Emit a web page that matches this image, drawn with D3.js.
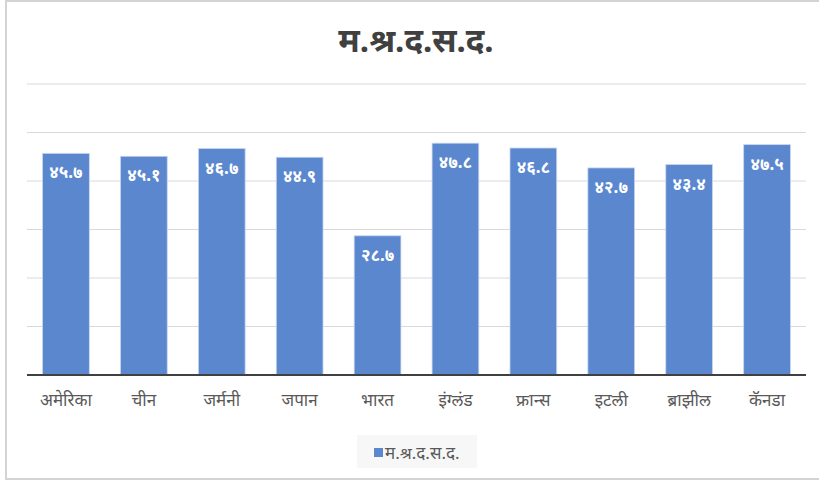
<!DOCTYPE html>
<html lang="mr">
<head>
    <meta charset="UTF-8">
    <title>म.श्र.द.स.द.</title>
    <script src="https://d3js.org/d3.v7.min.js"></script>
    <style>
        body { margin: 0; background: #fff; }
        text { font-family: "Noto Sans", "Noto Sans Devanagari", sans-serif; }
    </style>
</head>
<body>

<script>

    var countries = ['अमेरिका', 'चीन', 'जर्मनी', 'जपान', 'भारत', 'इंग्लंड', 'फ्रान्स', 'इटली', 'ब्राझील', 'कॅनडा'];
    var values = [45.7, 45.1, 46.7, 44.9, 28.7, 47.8, 46.8, 42.7, 43.4, 47.5];
    var valueLabels = ['४५.७', '४५.१', '४६.७', '४४.९', '२८.७', '४७.८', '४६.८', '४२.७', '४३.४', '४७.५'];
    var gridTicks = [10, 20, 30, 40, 50, 60];
    var seriesName = 'म.श्र.द.स.द.';

    var width = 819, height = 484;
    var barColor = '#5b87cf';

    var svg = d3.select('body')
        .append('svg')
        .attr('width', width)
        .attr('height', height);

    // chart frame
    svg.append('rect')
        .attr('x', 6).attr('y', 1)
        .attr('width', 830).attr('height', 478)
        .attr('fill', '#fff')
        .attr('stroke', '#d4d4d4')
        .attr('stroke-width', 2);

    var xScale = d3.scaleBand()
        .domain(countries)
        .range([27, 806])
        .paddingInner(0.4)
        .paddingOuter(0.2);

    var yScale = d3.scaleLinear()
        .domain([0, 60])
        .range([375, 84]);

    // gridlines
    svg.append('g')
        .selectAll('line')
        .data(gridTicks)
        .enter().append('line')
        .attr('x1', 27).attr('x2', 806)
        .attr('y1', function (d) { return yScale(d); })
        .attr('y2', function (d) { return yScale(d); })
        .attr('stroke', '#d9d9d9')
        .attr('stroke-width', 1);

    // bars
    svg.append('g')
        .selectAll('rect')
        .data(values)
        .enter().append('rect')
        .attr('x', function (d, i) { return xScale(countries[i]); })
        .attr('y', function (d) { return yScale(d); })
        .attr('width', xScale.bandwidth())
        .attr('height', function (d) { return yScale(0) - yScale(d); })
        .attr('fill', barColor)
        .attr('stroke', '#c9d6ef')
        .attr('stroke-width', 0.8);

    // value labels
    svg.append('g')
        .selectAll('text')
        .data(values)
        .enter().append('text')
        .attr('x', function (d, i) { return xScale(countries[i]) + xScale.bandwidth() / 2; })
        .attr('y', function (d) { return yScale(d) + 25; })
        .attr('text-anchor', 'middle')
        .attr('fill', '#fff')
        .attr('font-size', 17)
        .attr('font-weight', 'bold')
        .text(function (d, i) { return valueLabels[i]; });

    // x axis
    var xAxis = svg.append('g')
        .attr('transform', 'translate(0,375)')
        .call(d3.axisBottom(xScale).tickSize(0).tickPadding(19));
    xAxis.select('.domain')
        .attr('d', 'M27,0H806')
        .attr('stroke', '#404040')
        .attr('stroke-width', 2);
    xAxis.selectAll('text')
        .attr('fill', '#595959')
        .attr('font-size', 17)
        .style('font-family', '"Noto Sans", sans-serif');

    // title
    svg.append('text')
        .attr('x', 416)
        .attr('y', 52)
        .attr('text-anchor', 'middle')
        .attr('fill', '#404040')
        .attr('font-size', 33)
        .attr('font-weight', 'bold')
        .text(seriesName);

    // legend
    var legend = svg.append('g');
    legend.append('rect')
        .attr('x', 357).attr('y', 435)
        .attr('width', 120).attr('height', 33)
        .attr('fill', '#f7f7f7');
    legend.append('rect')
        .attr('x', 374).attr('y', 448)
        .attr('width', 9).attr('height', 9)
        .attr('fill', barColor);
    legend.append('text')
        .attr('x', 385)
        .attr('y', 459)
        .attr('fill', '#595959')
        .attr('font-size', 17)
        .text(seriesName);

</script>

</body>
</html>
